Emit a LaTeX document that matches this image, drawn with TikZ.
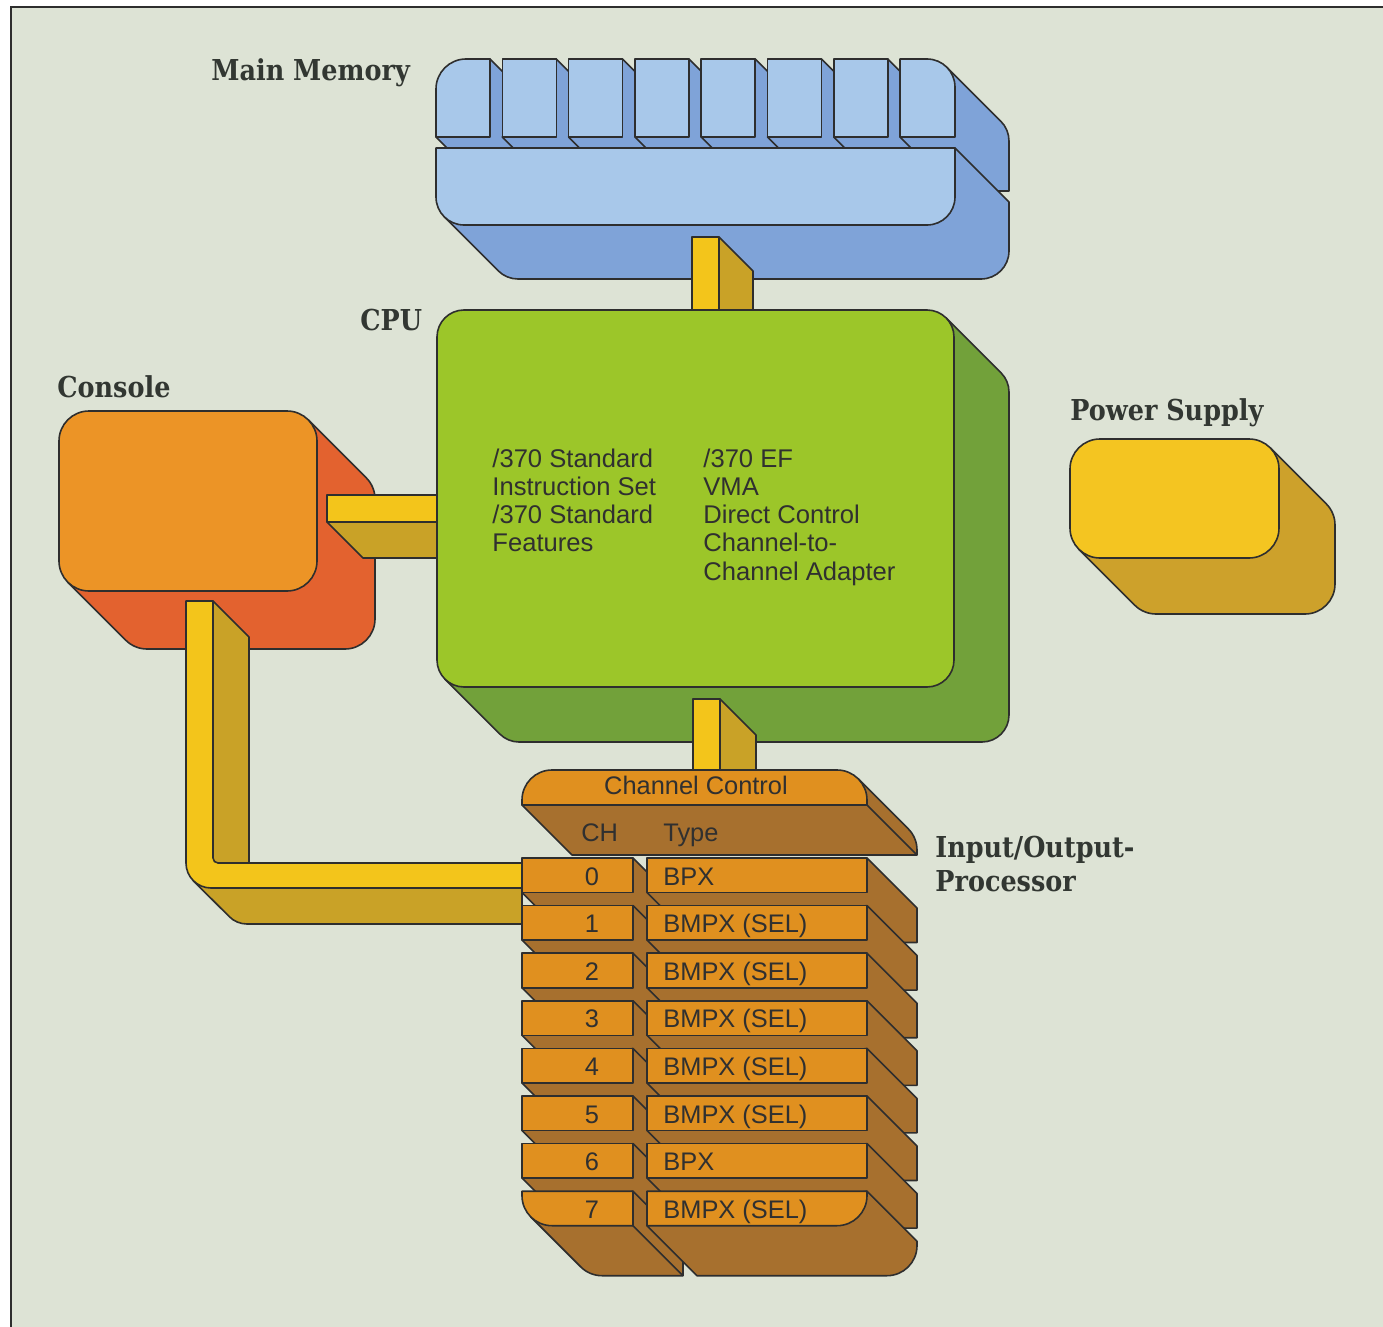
\documentclass[tikz,border=0pt]{standalone}
\usepackage{fontspec}
\setmainfont{Liberation Sans}
\newfontfamily\labelfont[FakeStretch=0.885]{DejaVu Serif}
\usetikzlibrary{positioning}

\definecolor{bgc}{HTML}{DDE3D5}
\definecolor{linec}{HTML}{2E2E2E}
\definecolor{labc}{HTML}{323732}
\definecolor{txtc}{HTML}{303030}
\definecolor{memf}{HTML}{A8C8EA}
\definecolor{mems}{HTML}{7FA3D8}
\definecolor{cpuf}{HTML}{9CC629}
\definecolor{cpus}{HTML}{72A13A}
\definecolor{conf}{HTML}{EC9426}
\definecolor{cons}{HTML}{E3622F}
\definecolor{powf}{HTML}{F4C521}
\definecolor{pows}{HTML}{CDA12B}
\definecolor{barf}{HTML}{F3C51B}
\definecolor{bars}{HTML}{C9A227}
\definecolor{iopf}{HTML}{E0901F}
\definecolor{iops}{HTML}{A7702E}

\tikzset{
  outl/.style={draw=linec, line width=0.8pt, line join=round},
  lbl/.style={font={\labelfont\bfseries\fontsize{14.4pt}{16pt}\selectfont}, text=labc, inner sep=0pt, anchor=base west},
  cputxt/.style={font={\fontsize{12.8pt}{14pt}\selectfont}, text=txtc, inner sep=0pt, anchor=base west},
  ioptxt/.style={font={\fontsize{12.7pt}{14pt}\selectfont}, text=txtc, inner sep=0pt},
}

% block seen from the front, with its depth going down to the right
% #1 left, #2 top, #3 right, #4 bottom, #5-#8 radii (tl, tr, br, bl), #9 depth
\newcommand{\blockbox}[9]{%
  \filldraw[outl, fill=sidec]
    ({#3-0.2929*#6},{#2+0.2929*#6}) -- ++(#9,#9)
    arc[start angle=-45, end angle=0, radius=#6]
    -- ({#3+#9},{#4-#7+#9}) arc[start angle=0, end angle=90, radius=#7]
    -- ({#1+#8+#9},{#4+#9}) arc[start angle=90, end angle=135, radius=#8]
    -- ({#1+0.2929*#8},{#4-0.2929*#8}) -- cycle;
  \filldraw[outl, fill=facec]
    ({#1+#5},#2) -- ({#3-#6},#2) arc[start angle=-90, end angle=0, radius=#6]
    -- (#3,{#4-#7}) arc[start angle=0, end angle=90, radius=#7]
    -- ({#1+#8},#4) arc[start angle=90, end angle=180, radius=#8]
    -- (#1,{#2+#5}) arc[start angle=180, end angle=270, radius=#5] -- cycle;
}

\begin{document}
\begin{tikzpicture}[x=0.5pt,y=-0.5pt]
  \useasboundingbox (0,0) rectangle (1383,1327);
  % paper and frame
  \fill[white] (0,0) rectangle (1383,1327);
  \fill[bgc] (11,7) rectangle (1383,1327);
  \draw[linec, line width=1pt] (11,1327) -- (11,7) -- (1383,7);

  % Main memory: eight modules on a slab
  \colorlet{facec}{memf}\colorlet{sidec}{mems}
  \blockbox{436}{59}{490}{137}{30}{0}{0}{0}{54}
  \foreach \i in {1,...,6} {
    \pgfmathsetmacro\ml{436+66.3*\i}
    \pgfmathsetmacro\mr{\ml+54}
    \blockbox{\ml}{59}{\mr}{137}{0}{0}{0}{0}{54}
  }
  \blockbox{900}{59}{955}{137}{0}{28}{0}{0}{54}
  \blockbox{436}{148}{955}{225}{0}{0}{28}{28}{54}

  % bus memory - CPU
  \filldraw[outl, fill=bars] (719,237) -- (753,271) -- (753,312) -- (719,312) -- cycle;
  \filldraw[outl, fill=barf] (692,237) rectangle (719,312);

  % Console
  \colorlet{facec}{conf}\colorlet{sidec}{cons}
  \blockbox{59}{411}{317}{591}{30}{30}{30}{30}{58}

  % bus console - CPU
  \filldraw[outl, fill=bars] (327,522) -- (363,558) -- (437,558) -- (437,522) -- cycle;
  \filldraw[outl, fill=barf] (327,495) rectangle (437,522);

  % CPU
  \colorlet{facec}{cpuf}\colorlet{sidec}{cpus}
  \blockbox{437}{310}{954}{687}{27}{27}{27}{27}{55}
  \foreach \t [count=\k from 0] in {/370 Standard, Instruction Set, /370 Standard, Features}
    \node[cputxt] (cpua\k) at (492,{467+28.3*\k}) {\t};
  \foreach \t [count=\k from 0] in {/370 EF, VMA, Direct Control, Channel-to-, Channel Adapter}
    \node[cputxt] (cpub\k) at (703,{467+28.3*\k}) {\t};

  % Power supply
  \colorlet{facec}{powf}\colorlet{sidec}{pows}
  \blockbox{1070}{439}{1279}{558}{30}{30}{30}{30}{56}

  % bus console - I/O processor
  \filldraw[outl, fill=bars] (213,601) -- (249,637) -- (249,863) -- (522,863) -- (522,924)
    -- (247,924) arc[start angle=90, end angle=135, radius=25] -- (193.3,880.7) -- (200,700) -- cycle;
  \filldraw[outl, fill=barf] (186,601) -- (213,601) -- (213,858) arc[start angle=180, end angle=90, radius=5]
    -- (522,863) -- (522,888) -- (211,888) arc[start angle=90, end angle=180, radius=25] -- cycle;

  % bus CPU - I/O processor
  \filldraw[outl, fill=bars] (720,699) -- (756,735) -- (756,772) -- (720,772) -- cycle;
  \filldraw[outl, fill=barf] (693,699) rectangle (720,772);

  % I/O processor
  \colorlet{facec}{iopf}\colorlet{sidec}{iops}
  \blockbox{522}{770}{867}{805}{30}{30}{0}{0}{50}
  \draw[outl] (867,805) -- (917,855);
  \node[ioptxt, anchor=base] (chctl) at (696,794) {Channel Control};
  \node[ioptxt, anchor=base west] (chhead) at (581,841) {CH};
  \node[ioptxt, anchor=base west] (tyhead) at (663,841) {Type};
  \foreach \i/\ty in {0/BPX, 1/{BMPX (SEL)}, 2/{BMPX (SEL)}, 3/{BMPX (SEL)}, 4/{BMPX (SEL)}, 5/{BMPX (SEL)}, 6/BPX} {
    \pgfmathsetmacro\rt{858+47.6*\i}
    \pgfmathsetmacro\rb{\rt+34.5}
    \blockbox{522}{\rt}{633}{\rb}{0}{0}{0}{0}{50}
    \blockbox{647}{\rt}{867}{\rb}{0}{0}{0}{0}{50}
    \node[ioptxt, anchor=base] (ch\i) at (592,{\rt+27}) {\i};
    \node[ioptxt, anchor=base west] (ty\i) at (663,{\rt+27}) {\ty};
  }
  \blockbox{522}{1191.2}{633}{1225.7}{0}{0}{0}{30}{50}
  \blockbox{647}{1191.2}{867}{1225.7}{0}{0}{30}{0}{50}
  \draw[outl] (633,1225.7) -- (683,1275.7);
  \node[ioptxt, anchor=base] (ch7) at (592,1218.2) {7};
  \node[ioptxt, anchor=base west] (ty7) at (663,1218.2) {BMPX (SEL)};

  % labels
  \node[lbl] (memlbl) at (211,81) {Main Memory};
  \node[lbl] (cpulbl) at (360,330) {CPU};
  \node[lbl] (conlbl) at (57,397) {Console};
  \node[lbl] (powlbl) at (1070,420) {Power Supply};
  \node[lbl] (ioplbl) at (935,857) {Input/Output-};
  \node[lbl, below=0pt of ioplbl.base west, anchor=base west, yshift=-17pt] (ioplbl2) {Processor};
\end{tikzpicture}
\end{document}
